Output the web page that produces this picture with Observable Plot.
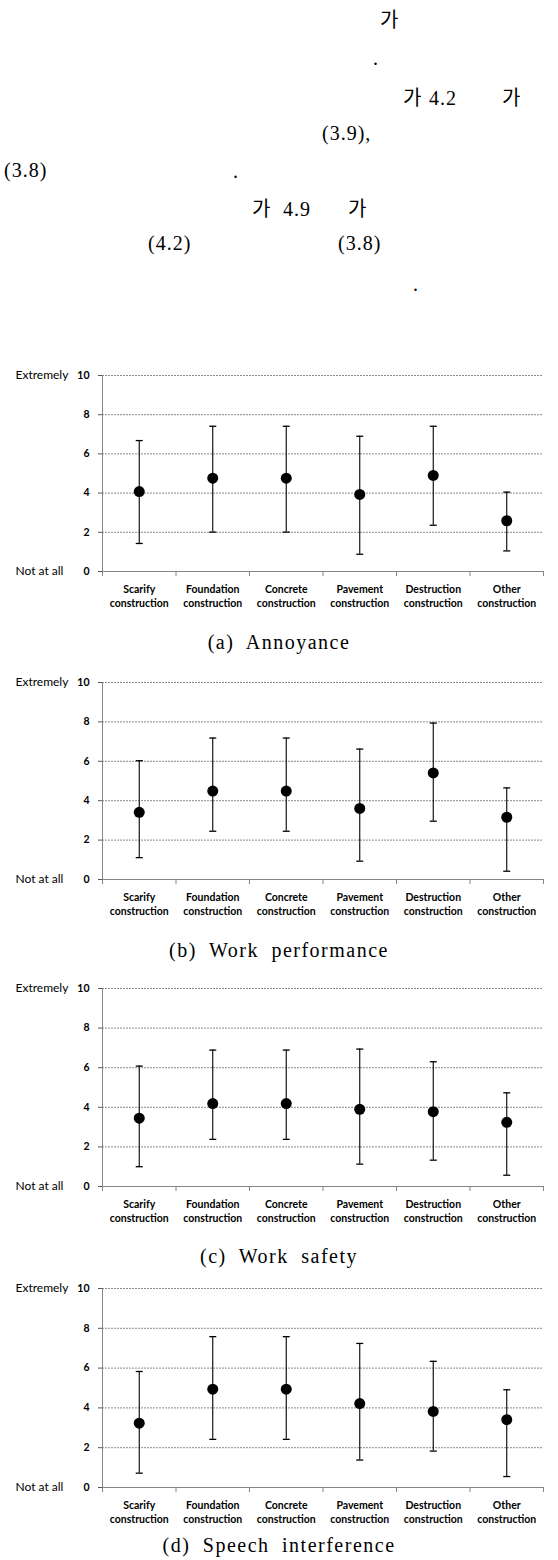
<!DOCTYPE html>
<html><head><meta charset="utf-8">
<script src="https://cdn.jsdelivr.net/npm/d3@7"></script>
<script src="https://cdn.jsdelivr.net/npm/@observablehq/plot@0.6"></script>
<style>
body{margin:0;background:#fff;}
#page{position:relative;width:558px;height:1560px;overflow:hidden;background:#fff;}
.panel{position:absolute;left:0;}
.cap{position:absolute;left:0;width:558px;text-align:center;font-family:"Liberation Serif",serif;font-size:20px;line-height:24px;letter-spacing:1.5px;word-spacing:6px;color:#000;}
#toptext{position:absolute;left:0;top:0;}
#toptext text{font-family:"Liberation Serif","Noto Sans CJK KR",serif;font-size:20px;fill:#000;letter-spacing:1px;}
</style></head><body><div id="page"></div>
<script>
// ---- data ----
const categories = ["Scarify construction", "Foundation construction", "Concrete construction",
  "Pavement construction", "Destruction construction", "Other construction"];
const yTicks = [0, 2, 4, 6, 8, 10];
const endLabels = ["Not at all", "Extremely"];
const endLabelValues = [0, 10];

const annoyanceMean  = [4.08, 4.76, 4.76, 3.93, 4.90, 2.59];
const annoyanceUpper = [6.68, 7.41, 7.41, 6.90, 7.41, 4.05];
const annoyanceLower = [1.43, 2.01, 2.01, 0.88, 2.36, 1.05];

const performanceMean  = [3.41, 4.49, 4.49, 3.61, 5.41, 3.16];
const performanceUpper = [6.03, 7.18, 7.18, 6.62, 7.94, 4.65];
const performanceLower = [1.11, 2.45, 2.45, 0.93, 2.96, 0.42];

const safetyMean  = [3.45, 4.19, 4.19, 3.90, 3.78, 3.24];
const safetyUpper = [6.08, 6.89, 6.89, 6.94, 6.30, 4.73];
const safetyLower = [1.00, 2.38, 2.38, 1.13, 1.33, 0.57];

const speechMean  = [3.23, 4.94, 4.94, 4.22, 3.82, 3.41];
const speechUpper = [5.83, 7.58, 7.58, 7.24, 6.34, 4.91];
const speechLower = [0.72, 2.42, 2.42, 1.38, 1.83, 0.55];

const captions = ["(a)  Annoyance", "(b)  Work  performance", "(c)  Work  safety", "(d)  Speech  interference"];

// top paragraph fragments (the Korean text of the source only shows these glyphs)
const topFragments = ["가", ".", "가", "4.2", "가", "(3.9),", "(3.8)", ".", "가", "4.9", "가", "(4.2)", "(3.8)", "."];

// ---- layout ----
const page = document.getElementById("page");
const topLayout = [
  [380, 27], [373, 65], [403, 105], [429, 105], [502, 105],
  [322, 140], [4, 177], [233, 178], [252, 216], [283, 216],
  [348, 216], [148, 250], [338, 250], [413, 291]
];
const NS = "http://www.w3.org/2000/svg";
const tsvg = document.createElementNS(NS, "svg");
tsvg.setAttribute("id", "toptext");
tsvg.setAttribute("width", 558); tsvg.setAttribute("height", 310);
topFragments.forEach((s, i) => {
  const [x, y] = topLayout[i];
  const t = document.createElementNS(NS, "text");
  t.setAttribute("x", x); t.setAttribute("y", y);
  t.textContent = s;
  tsvg.appendChild(t);
});
page.appendChild(tsvg);

const panels = [
  {mean: annoyanceMean, upper: annoyanceUpper, lower: annoyanceLower, top: 365, h: 196, capY: 642},
  {mean: performanceMean, upper: performanceUpper, lower: performanceLower, top: 672, h: 197, capY: 950},
  {mean: safetyMean, upper: safetyUpper, lower: safetyLower, top: 978, h: 198, capY: 1256},
  {mean: speechMean, upper: speechUpper, lower: speechLower, top: 1278, h: 199, capY: 1545}
];

const capSymbol = {
  draw(ctx, size) { const r = Math.sqrt(size / Math.PI); ctx.moveTo(-r, 0); ctx.lineTo(r, 0); }
};

panels.forEach((p, k) => {
  const rows = categories.map((c, i) => ({pos: i + 0.5, label: c, mean: p.mean[i], hi: p.upper[i], lo: p.lower[i]}));
  const chart = Plot.plot({
    width: 558, height: 10 + p.h + 40,
    marginTop: 10, marginBottom: 40, marginLeft: 102, marginRight: 15,
    x: {domain: [0, categories.length]},
    y: {domain: [0, 10]},
    style: {fontFamily: "Lato, sans-serif", fontSize: "10.5px", background: "white", color: "black", overflow: "visible"},
    marks: [
      Plot.gridY(yTicks.slice(1), {stroke: "#8a8a8a", strokeOpacity: 1, strokeDasharray: "2,1"}),
      Plot.ruleX([0], {stroke: "#868686"}),
      Plot.ruleY([0], {stroke: "#868686"}),
      Plot.axisY(yTicks, {tickSize: 4, tickPadding: 9, fontWeight: "bold", fontSize: 10.5, stroke: "#555", fill: "black", label: null}),
      Plot.axisX(d3.range(categories.length + 1), {tickSize: 5, tickFormat: () => "", stroke: "#868686", label: null}),
      Plot.text(endLabelValues, {y: d => d, text: (d, i) => endLabels[i], frameAnchor: "left", textAnchor: "start", dx: -87, fontSize: 12, fill: "black"}),
      Plot.text(rows, {x: "pos", text: d => d.label.replace(" ", "\n"), frameAnchor: "bottom", lineAnchor: "top", dy: 12, fontWeight: "bold", fontSize: 10.5, lineHeight: 1.3, fill: "black"}),
      Plot.ruleX(rows, {x: "pos", y1: "lo", y2: "hi", stroke: "black", strokeWidth: 1.1}),
      Plot.dot(rows, {x: "pos", y: "hi", r: 3.5, symbol: capSymbol, stroke: "black", fill: "none", strokeWidth: 1.3}),
      Plot.dot(rows, {x: "pos", y: "lo", r: 3.5, symbol: capSymbol, stroke: "black", fill: "none", strokeWidth: 1.3}),
      Plot.dot(rows, {x: "pos", y: "mean", r: 5.5, fill: "black", stroke: "none"})
    ]
  });
  chart.classList.add("panel");
  chart.style.top = p.top + "px";
  page.appendChild(chart);
  const cap = document.createElement("div");
  cap.className = "cap";
  cap.style.top = (p.capY - 12) + "px";
  cap.textContent = captions[k];
  page.appendChild(cap);
});
</script></body></html>
